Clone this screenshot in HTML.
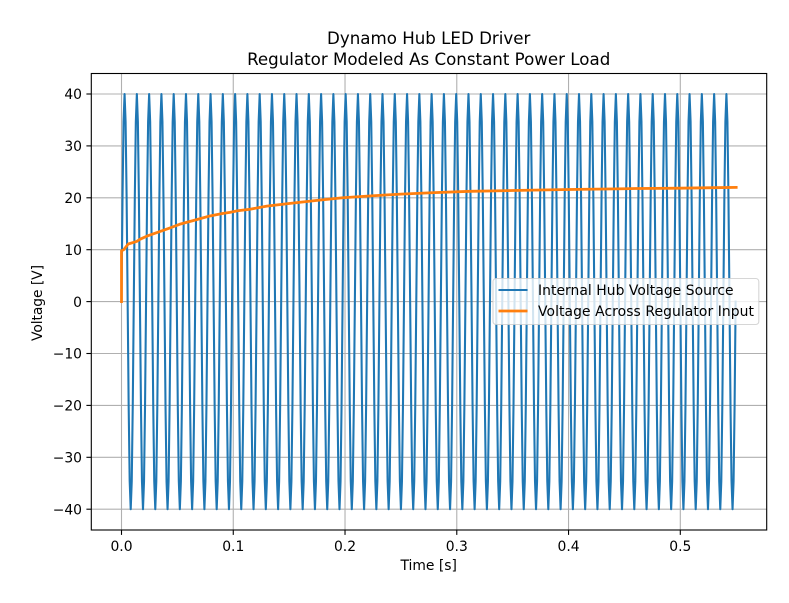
<!DOCTYPE html>
<html lang="en">
<head>
<meta charset="utf-8">
<title>Dynamo Hub LED Driver</title>
<style>
html,body{margin:0;padding:0;background:#fff;width:789px;height:603px;overflow:hidden}
svg{display:block}
text{font-family:"DejaVu Sans","Liberation Sans",sans-serif;fill:#000}
</style>
</head>
<body>
<svg id="chart" xmlns="http://www.w3.org/2000/svg" width="789" height="603" viewBox="0 0 789 603">
  <rect x="0" y="0" width="789" height="603" fill="#fff"/>
  <text x="428.7" y="44" font-size="16.67" text-anchor="middle">Dynamo Hub LED Driver</text>
  <text x="428.7" y="65" font-size="16.67" text-anchor="middle">Regulator Modeled As Constant Power Load</text>
  <text x="428.7" y="570" font-size="13.89" text-anchor="middle">Time [s]</text>
  <text x="42" y="303" font-size="13.89" text-anchor="middle" textLength="76" lengthAdjust="spacing" transform="rotate(-90 42 303)">Voltage [V]</text>
  <g id="grid"></g>
  <g id="series"></g>
  <g id="frame"></g>
  <g>
    <rect x="493" y="278.5" width="265.8" height="46" rx="3" ry="3" fill="#fff" fill-opacity="0.8" stroke="#ccc" stroke-opacity="0.8" stroke-width="1.1"/>
    <line x1="498.5" y1="290" x2="527.5" y2="290" stroke="#1f77b4" stroke-width="2.08"/>
    <text x="538" y="295" font-size="13.89" textLength="195.6" lengthAdjust="spacing">Internal Hub Voltage Source</text>
    <line x1="498.5" y1="311" x2="527.5" y2="311" stroke="#ff7f0e" stroke-width="2.78"/>
    <text x="538" y="316" font-size="13.89" textLength="216" lengthAdjust="spacing">Voltage Across Regulator Input</text>
  </g>
</svg>
<script>
const xTicks = [0, 0.1, 0.2, 0.3, 0.4, 0.5];
const xTickLabels = ["0.0", "0.1", "0.2", "0.3", "0.4", "0.5"];
const yTicks = [-40, -30, -20, -10, 0, 10, 20, 30, 40];
const yTickLabels = ["\u221240", "\u221230", "\u221220", "\u221210", "0", "10", "20", "30", "40"];

const sourceCycleMs = 10.99;
const sourceCycleShape = [0, 0.5, 0.866, 1, 0.866, 0.5, 0, -0.5, -0.866, -1, -0.866, -0.5];
const sourceCycleAmplitudes = [
  40,40,40,40,40,40,40,40,40,40,
  40,40,40,40,40,40,40,40,40,40,
  40,40,40,40,40,40,40,40,40,40,
  40,40,40,40,40,40,40,40,40,40,
  40,40,40,40,40,40,40,40,40,40
];

const regulatorTimesMs = [0, 0, 2, 6, 13.6, 16.5, 22.5, 33, 43.4, 52, 67.3, 79, 91, 97, 104, 115, 130, 150, 175, 198, 225, 250, 280, 312, 350, 400, 450, 463.5, 500, 530, 550];
const regulatorVolts = [0, 9.8, 10, 11.1, 11.6, 12, 12.6, 13.4, 14.2, 14.9, 15.8, 16.5, 17, 17.2, 17.5, 17.8, 18.4, 18.9, 19.5, 20, 20.4, 20.7, 21, 21.25, 21.4, 21.6, 21.75, 21.8, 21.85, 21.95, 22];

const SVG_NS = "http://www.w3.org/2000/svg";
const AXES_LEFT = 91.3, AXES_RIGHT = 766.7, AXES_TOP = 73.5, AXES_BOTTOM = 530;
function xScale(seconds) { return 121.5 + seconds * 1117.6; }
function yScale(volts) { return 301.6 - volts * 5.19; }

const grid = document.getElementById("grid");
const series = document.getElementById("series");
const frame = document.getElementById("frame");

function make(tag, attrs, parent) {
  const el = document.createElementNS(SVG_NS, tag);
  for (const k in attrs) el.setAttribute(k, attrs[k]);
  parent.appendChild(el);
  return el;
}

xTicks.forEach(function (v, i) {
  const x = xScale(v);
  const g = make("line", {x1: x, x2: x, y1: AXES_TOP, y2: AXES_BOTTOM, stroke: "#b0b0b0", "stroke-width": 1.1}, grid);
  
  
  const t = make("line", {x1: x, x2: x, y1: AXES_BOTTOM, y2: AXES_BOTTOM + 4.9, stroke: "#000", "stroke-width": 1.1}, frame);
  
  
  const l = make("text", {x: x, y: 551, "font-size": 13.89, "text-anchor": "middle"}, frame);
  l.textContent = xTickLabels[i];
  
  
});

yTicks.forEach(function (v, i) {
  const y = yScale(v);
  const g = make("line", {x1: AXES_LEFT, x2: AXES_RIGHT, y1: y, y2: y, stroke: "#b0b0b0", "stroke-width": 1.1}, grid);
  
  
  const t = make("line", {x1: AXES_LEFT - 4.9, x2: AXES_LEFT, y1: y, y2: y, stroke: "#000", "stroke-width": 1.1}, frame);
  
  
  const l = make("text", {x: 82, y: y + 5.2, "font-size": 13.89, "text-anchor": "end"}, frame);
  l.textContent = yTickLabels[i];
  
  
});

function pointAt(ms, volts) {
  return xScale(ms / 1000).toFixed(2) + "," + yScale(volts).toFixed(2);
}

const sourcePoints = [];
sourceCycleAmplitudes.forEach(function (amp, c) {
  sourceCycleShape.forEach(function (s, k) {
    sourcePoints.push(pointAt((c + k / sourceCycleShape.length) * sourceCycleMs, amp * s));
  });
});
sourcePoints.push(pointAt(sourceCycleAmplitudes.length * sourceCycleMs, 0));

const regulatorPoints = regulatorVolts.map(function (v, i) {
  return pointAt(regulatorTimesMs[i], v);
});

const sourceLine = make("polyline", {points: sourcePoints.join(" "), fill: "none", stroke: "#1f77b4", "stroke-width": 2.08, "stroke-linejoin": "round", "stroke-linecap": "square"}, series);



const regulatorLine = make("polyline", {points: regulatorPoints.join(" "), fill: "none", stroke: "#ff7f0e", "stroke-width": 2.78, "stroke-linejoin": "round", "stroke-linecap": "square"}, series);



const spine = make("rect", {x: AXES_LEFT, y: AXES_TOP, width: AXES_RIGHT - AXES_LEFT, height: AXES_BOTTOM - AXES_TOP, fill: "none", stroke: "#000", "stroke-width": 1.1}, frame);


</script>
</body>
</html>
